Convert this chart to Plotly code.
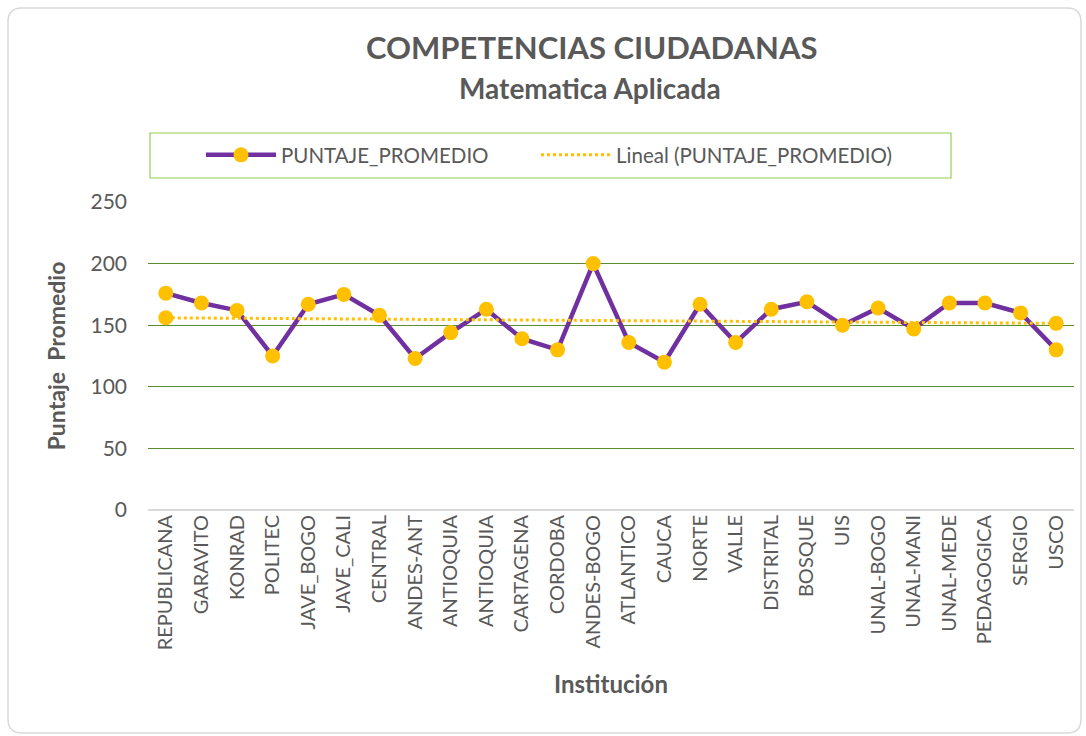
import plotly.graph_objects as go

INSTITUCIONES = [
    "REPUBLICANA", "GARAVITO", "KONRAD", "POLITEC", "JAVE_BOGO", "JAVE_CALI",
    "CENTRAL", "ANDES-ANT", "ANTIOQUIA", "ANTIOQUIA", "CARTAGENA", "CORDOBA",
    "ANDES-BOGO", "ATLANTICO", "CAUCA", "NORTE", "VALLE", "DISTRITAL",
    "BOSQUE", "UIS", "UNAL-BOGO", "UNAL-MANI", "UNAL-MEDE", "PEDAGOGICA",
    "SERGIO", "USCO",
]
PUNTAJE = [176, 168, 162, 125, 167, 175, 158, 123, 144, 163, 139, 130, 200,
           136, 120, 167, 136, 163, 169, 150, 164, 147, 168, 168, 160, 130]
# linear trend endpoints
TREND_Y = [156, 151.5]
Y_TICKS = [0, 50, 100, 150, 200, 250]

FONT = "Lato, 'Open Sans', sans-serif"
GRAY = "#595959"
PURPLE = "#7030a0"
GOLD = "#ffc000"
GREEN = "#5b8c32"

# plot area in pixels
L, R, T, B = 148, 1074, 202, 510
W, H = 1086, 736


def px_x(p):
    return (p - L) / (R - L)


def px_y(p):
    return (B - p) / (B - T)


idx = list(range(len(INSTITUCIONES)))
trend_x = [idx[0], idx[-1]]

fig = go.Figure()
fig.add_trace(go.Scatter(
    x=idx, y=PUNTAJE, mode="lines+markers", name="PUNTAJE_PROMEDIO",
    line=dict(color=PURPLE, width=4.5),
    marker=dict(color=GOLD, size=15), legend="legend",
))
fig.add_trace(go.Scatter(
    x=trend_x, y=TREND_Y, mode="lines", name="Lineal (PUNTAJE_PROMEDIO)",
    line=dict(color=GOLD, width=3, dash="dot"), legend="legend2",
))
fig.add_trace(go.Scatter(
    x=trend_x, y=TREND_Y, mode="markers", showlegend=False,
    marker=dict(color=GOLD, size=15),
))

# outer rounded chart border
r = 14
x0, x1, y0, y1 = 8, 1081, 8, 733
path = (
    f"M {px_x(x0 + r)},{px_y(y0)} L {px_x(x1 - r)},{px_y(y0)} "
    f"Q {px_x(x1)},{px_y(y0)} {px_x(x1)},{px_y(y0 + r)} "
    f"L {px_x(x1)},{px_y(y1 - r)} Q {px_x(x1)},{px_y(y1)} {px_x(x1 - r)},{px_y(y1)} "
    f"L {px_x(x0 + r)},{px_y(y1)} Q {px_x(x0)},{px_y(y1)} {px_x(x0)},{px_y(y1 - r)} "
    f"L {px_x(x0)},{px_y(y0 + r)} Q {px_x(x0)},{px_y(y0)} {px_x(x0 + r)},{px_y(y0)} Z"
)
fig.add_shape(type="path", path=path, xref="paper", yref="paper",
              line=dict(color="#d9d9d9", width=1.5), layer="below")
# legend box
fig.add_shape(type="rect", xref="paper", yref="paper",
              x0=px_x(150), x1=px_x(951), y0=px_y(133), y1=px_y(178),
              line=dict(color="#92d050", width=1.2))

fig.add_annotation(text="<b>COMPETENCIAS CIUDADANAS</b>", xref="paper", yref="paper",
                   x=px_x(591), y=px_y(47), showarrow=False, yanchor="middle",
                   font=dict(size=31, color=GRAY, family=FONT))
fig.add_annotation(text="<b>Matematica Aplicada</b>", xref="paper", yref="paper",
                   x=px_x(590), y=px_y(88), showarrow=False, yanchor="middle",
                   font=dict(size=28, color=GRAY, family=FONT))

legend_style = dict(
    orientation="h", yanchor="middle", xanchor="left", y=px_y(155),
    font=dict(size=20.5, color=GRAY, family=FONT),
    bgcolor="rgba(0,0,0,0)", itemwidth=70,
)

fig.update_layout(
    width=W, height=H,
    margin=dict(l=L, r=W - R, t=T, b=H - B),
    paper_bgcolor="white", plot_bgcolor="white",
    font=dict(family=FONT, color=GRAY),
    showlegend=True,
    legend=dict(x=px_x(201), **legend_style),
    legend2=dict(x=px_x(536), **legend_style),
    xaxis=dict(
        range=[-0.5, len(INSTITUCIONES) - 0.5],
        tickvals=idx, ticktext=INSTITUCIONES, tickangle=-90,
        tickfont=dict(size=20, color=GRAY), showgrid=False,
        zeroline=False, showline=False, ticks="",
        title=dict(text="<b>Institución</b>", font=dict(size=24, color=GRAY), standoff=26),
    ),
    yaxis=dict(
        range=[0, 250], tickvals=Y_TICKS,
        tickfont=dict(size=21, color=GRAY),
        gridcolor=GREEN, gridwidth=1.2, zeroline=True, zerolinecolor="#d9d9d9",
        zerolinewidth=1.5, showline=False, ticks="", ticklabelstandoff=20,
        title=dict(text="<b>Puntaje  Promedio</b>", font=dict(size=23, color=GRAY), standoff=18),
    ),
)

fig.write_html("out.html", config={"displayModeBar": False},
               post_script="document.body.style.margin='0';")
